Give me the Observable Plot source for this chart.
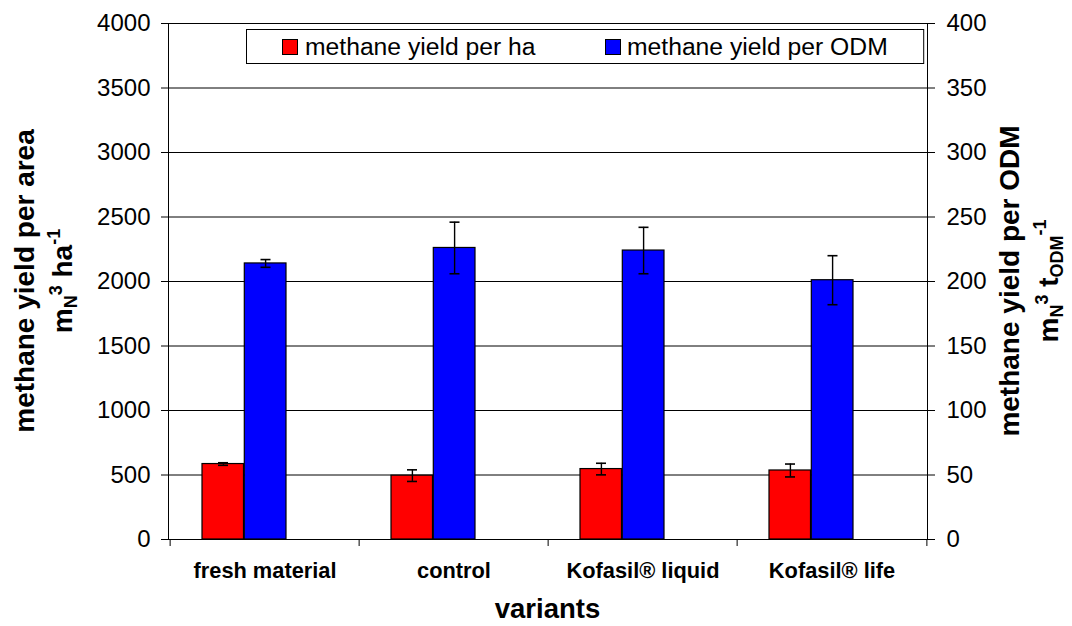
<!DOCTYPE html>
<html><head><meta charset="utf-8">
<script src="https://cdn.jsdelivr.net/npm/d3@7"></script>
<script src="https://cdn.jsdelivr.net/npm/@observablehq/plot@0.6"></script>
<style>
html,body{margin:0;padding:0;background:#fff;}
#chart{position:relative;width:1072px;height:626px;overflow:hidden;}
svg{font-family:"Liberation Sans",Arial,Helvetica,sans-serif;}
</style></head><body><div id="chart"></div>
<script>
// ---- data ----
const categories = ["fresh material", "control", "Kofasil® liquid", "Kofasil® life"];
const yieldPerHa = [585, 495, 546, 535];          // m_N^3 ha^-1 (left axis)
const yieldPerHaErr = [10, 45, 45, 50];
const yieldPerOdm = [214, 226, 224, 201];         // m_N^3 t_ODM^-1 (right axis)
const yieldPerOdmErr = [3, 20, 18, 19];
const leftTicks = [0, 500, 1000, 1500, 2000, 2500, 3000, 3500, 4000];
const seriesNames = ["methane yield per ha", "methane yield per ODM"];
const seriesColors = ["#ff0000", "#0000ff"];
const odmFactor = 10; // right axis 0–400 sits on left axis 0–4000

const W = 1072, H = 626, mL = 168, mR = 145, mT = 23, mB = 87;
const bw = (W - mL - mR) / categories.length;

const rows = categories.map((c, i) => ({
  c, ha: yieldPerHa[i], haE: yieldPerHaErr[i], odm: yieldPerOdm[i], odmE: yieldPerOdmErr[i]
}));

const font = '"Liberation Sans", Arial, Helvetica, sans-serif';

const plot = Plot.plot({
  width: W, height: H,
  marginLeft: mL, marginRight: mR, marginTop: mT, marginBottom: mB,
  style: {fontFamily: font, background: "white", color: "black", overflow: "visible"},
  x: {type: "band", domain: categories, padding: 0, axis: null},
  y: {domain: [0, 4000], axis: null, label: null},
  marks: [
    Plot.gridY({ticks: leftTicks, stroke: "#000", strokeOpacity: 1, strokeWidth: 1}),
    Plot.barY(rows, {x: "c", y1: 0, y2: "ha", fill: seriesColors[0], stroke: "#000", strokeWidth: 1.2, insetLeft: 32, insetRight: 115.5}),
    Plot.barY(rows, {x: "c", y1: 0, y2: d => d.odm * odmFactor, fill: seriesColors[1], stroke: "#000", strokeWidth: 1.2, insetLeft: 74.3, insetRight: 73}),
    // error bars, per ha
    Plot.ruleX(rows, {x: "c", y1: d => d.ha - d.haE, y2: d => d.ha + d.haE, dx: -41.6, stroke: "#000", strokeWidth: 1.4}),
    Plot.tickY(rows, {x: "c", y: d => d.ha - d.haE, stroke: "#000", strokeWidth: 1.6, insetLeft: 48, insetRight: 131}),
    Plot.tickY(rows, {x: "c", y: d => d.ha + d.haE, stroke: "#000", strokeWidth: 1.6, insetLeft: 48, insetRight: 131}),
    // error bars, per ODM
    Plot.ruleX(rows, {x: "c", y1: d => (d.odm - d.odmE) * odmFactor, y2: d => (d.odm + d.odmE) * odmFactor, dx: 0.6, stroke: "#000", strokeWidth: 1.4}),
    Plot.tickY(rows, {x: "c", y: d => (d.odm - d.odmE) * odmFactor, stroke: "#000", strokeWidth: 1.6, insetLeft: 90.5, insetRight: 88.5}),
    Plot.tickY(rows, {x: "c", y: d => (d.odm + d.odmE) * odmFactor, stroke: "#000", strokeWidth: 1.6, insetLeft: 90.5, insetRight: 88.5}),
    Plot.frame({stroke: "#000", strokeWidth: 1}),
    Plot.axisY({ticks: leftTicks, anchor: "left", tickSize: 7, tickPadding: 11, fontSize: 24, label: null, stroke: "#000", tickFormat: d => String(d)}),
    Plot.axisY({ticks: leftTicks, anchor: "right", tickSize: 7, tickPadding: 12, fontSize: 24, label: null, stroke: "#000", tickFormat: d => String(d / odmFactor)}),
    Plot.axisX({anchor: "bottom", tickSize: 0, tickPadding: 23, fontSize: 21.8, fontWeight: "bold", label: null}),
    Plot.ruleX(categories, {x: d => d, dx: -bw / 2, insetTop: H - mT - mB, insetBottom: -7, stroke: "#000"}),
    Plot.ruleX(categories.slice(-1), {x: d => d, dx: bw / 2, insetTop: H - mT - mB, insetBottom: -7, stroke: "#000"})
  ]
});

document.getElementById("chart").appendChild(plot);
const svg = d3.select(plot);

// ---- axis titles ----
function rotTitle(x, y, size) {
  return svg.append("text")
    .attr("transform", `translate(${x},${y}) rotate(-90)`)
    .attr("text-anchor", "middle")
    .attr("font-family", font)
    .attr("font-weight", "bold")
    .attr("font-size", size)
    .attr("fill", "#000");
}
const midY = (mT + (H - mB)) / 2;
rotTitle(34, midY, 28).text("methane yield per area");
{
  const t = rotTitle(72, midY, 28);
  t.append("tspan").text("m");
  t.append("tspan").attr("font-size", 18).attr("dy", 5).text("N");
  t.append("tspan").attr("font-size", 18).attr("dy", -15).text("3");
  t.append("tspan").attr("dy", 10).text(" ha");
  t.append("tspan").attr("font-size", 18).attr("dy", -12).text("-1");
}
rotTitle(1019, midY, 28).text("methane yield per ODM");
{
  const t = rotTitle(1058, midY, 28);
  t.append("tspan").text("m");
  t.append("tspan").attr("font-size", 18).attr("dy", 5).text("N");
  t.append("tspan").attr("font-size", 18).attr("dy", -15).text("3");
  t.append("tspan").attr("dy", 10).text(" t");
  t.append("tspan").attr("font-size", 18).attr("dy", 5).text("ODM");
  t.append("tspan").attr("font-size", 18).attr("dy", -17).text("-1");
}
svg.append("text")
  .attr("x", mL + (W - mL - mR) / 2).attr("y", 618)
  .attr("text-anchor", "middle")
  .attr("font-family", font).attr("font-weight", "bold").attr("font-size", 27.5)
  .attr("fill", "#000").text("variants");

// ---- legend ----
const lg = svg.append("g").attr("font-family", font).attr("font-size", 24.7).attr("text-anchor", "start");
const box = lg.append("rect").attr("x", 246.5).attr("y", 29.5).attr("height", 34)
  .attr("fill", "#fff").attr("stroke", "#000");
const swatchX = [282.5, 605.5], textX = [305, 627];
let lastEnd = 0;
seriesNames.forEach((name, i) => {
  lg.append("rect").attr("x", swatchX[i]).attr("y", 39.5).attr("width", 15).attr("height", 15)
    .attr("fill", seriesColors[i]).attr("stroke", "#000");
  const t = lg.append("text").attr("x", textX[i]).attr("y", 55).attr("text-anchor", "start").attr("fill", "#000").text(name);
  lastEnd = textX[i] + t.node().getComputedTextLength();
});
box.attr("width", lastEnd + 36 - 246.5);
</script>
</body></html>
